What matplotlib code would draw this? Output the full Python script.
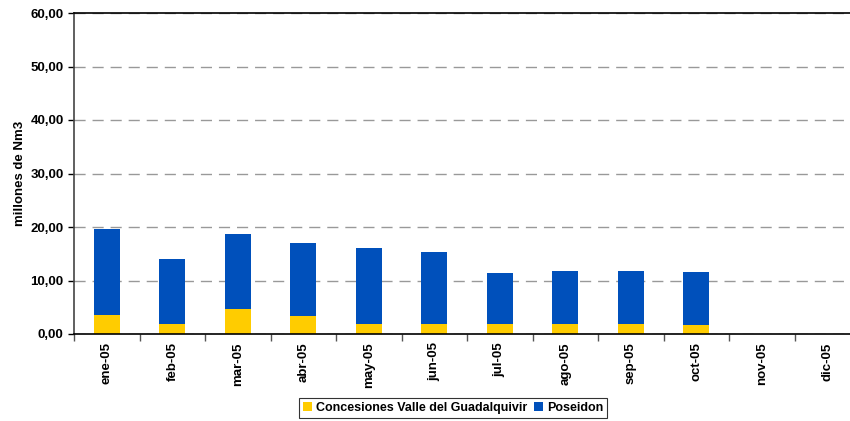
import numpy as np
import matplotlib.pyplot as plt
from matplotlib.ticker import FuncFormatter, FixedLocator

plt.rcParams['font.family'] = ['Liberation Sans', 'DejaVu Sans']
plt.rcParams['font.weight'] = 'bold'

# monthly data (millones de Nm3)
meses = ['ene-05', 'feb-05', 'mar-05', 'abr-05', 'may-05', 'jun-05',
         'jul-05', 'ago-05', 'sep-05', 'oct-05', 'nov-05', 'dic-05']
concesiones = [3.55, 1.87, 4.67, 3.36, 1.87, 1.87, 1.87, 1.87, 1.87, 1.68, 0, 0]
total = [19.6, 14.0, 18.7, 17.0, 16.07, 15.3, 11.4, 11.8, 11.8, 11.6, 0, 0]
poseidon = [t - c for t, c in zip(total, concesiones)]

amarillo = '#FFCC00'
azul = '#0050BB'

fig = plt.figure(figsize=(8.5, 4.21), dpi=100)
ax = fig.add_axes([74 / 850, 1 - 334 / 421, 786 / 850, 321 / 421])

x = np.arange(len(meses))
ax.bar(x, concesiones, width=0.4, color=amarillo, label='Concesiones Valle del Guadalquivir')
ax.bar(x, poseidon, width=0.4, bottom=concesiones, color=azul, label='Poseidon')

ax.set_xlim(-0.5, len(meses) - 0.5)
ax.set_ylim(0, 60)
ax.set_yticks(np.arange(0, 61, 10))
ax.yaxis.set_major_formatter(FuncFormatter(lambda v, p: f'{v:.2f}'.replace('.', ',')))
ax.yaxis.grid(True, linestyle=(0, (8, 5)), color='#999999', linewidth=1)
ax.set_axisbelow(True)

# category labels centered, separator ticks at the boundaries
ax.set_xticks(x)
ax.set_xticklabels(meses, rotation=90, fontsize=9.5, fontweight='bold')
ax.tick_params(axis='x', which='major', length=0, pad=6)
ax.xaxis.set_minor_locator(FixedLocator(np.arange(-0.5, len(meses), 1)))
ax.tick_params(axis='x', which='minor', length=5, width=1, color='#555555')
ax.tick_params(axis='y', labelsize=9.5, length=4, width=1)
for lab in ax.get_yticklabels():
    lab.set_fontweight('bold')

ax.set_ylabel('millones de Nm3', fontsize=9.5, fontweight='bold', labelpad=3)
for s in ['left', 'bottom', 'top']:
    ax.spines[s].set_linewidth(1.2)
ax.spines['left'].set_color('#444444')

leg = fig.legend(loc='center', bbox_to_anchor=(453 / 850, 1 - 408 / 421), ncol=2,
                 frameon=True, fancybox=False, edgecolor='black', fontsize=9,
                 handlelength=0.7, handleheight=0.7, handletextpad=0.3,
                 columnspacing=0.6, borderpad=0.3, prop={'weight': 'bold', 'size': 9})
leg.get_frame().set_linewidth(0.8)

fig.savefig('out.png', dpi=100)
